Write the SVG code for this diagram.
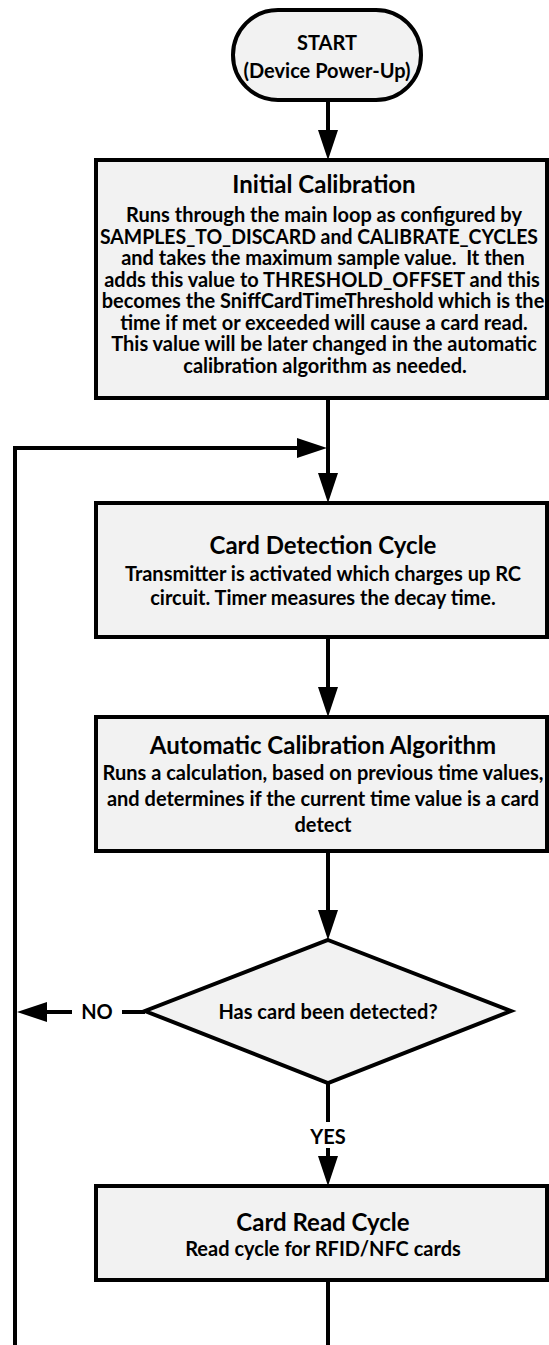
<svg xmlns="http://www.w3.org/2000/svg" width="549" height="1345" viewBox="0 0 549 1345">
<style>
.box{fill:#f2f2f2;stroke:#000;stroke-width:4}
.ln{fill:none;stroke:#000;stroke-width:4}
text{font-family:Lato,"Liberation Sans",sans-serif;font-weight:bold;fill:#000;text-anchor:middle}
.t{font-size:24px}
.b{font-size:20px}
</style>
<defs>
<marker id="ah" markerUnits="userSpaceOnUse" markerWidth="32" markerHeight="24" refX="0" refY="11" orient="auto" viewBox="0 0 32 22">
<path d="M0,1 L30,11 L0,21 z" fill="#000"/>
</marker>
</defs>
<rect width="549" height="1345" fill="#fff"/>
<g id="connectors">
<line class="ln" x1="328" y1="100" x2="328" y2="130" marker-end="url(#ah)"/>
<line class="ln" x1="328" y1="398" x2="328" y2="473" marker-end="url(#ah)"/>
<polyline class="ln" points="15,1345 15,448 297,448" marker-end="url(#ah)"/>
<line class="ln" x1="328" y1="637" x2="328" y2="687" marker-end="url(#ah)"/>
<line class="ln" x1="328" y1="851" x2="328" y2="910" marker-end="url(#ah)"/>
<line class="ln" x1="145" y1="1012" x2="122" y2="1012"/>
<line class="ln" x1="72" y1="1012" x2="47" y2="1012" marker-end="url(#ah)"/>
<text class="b" x="97" y="1019">NO</text>
<line class="ln" x1="328" y1="1083" x2="328" y2="1122"/>
<text class="b" x="328" y="1144">YES</text>
<line class="ln" x1="328" y1="1148" x2="328" y2="1156" marker-end="url(#ah)"/>
<line class="ln" x1="328" y1="1280" x2="328" y2="1345"/>
</g>
<g id="start">
<rect class="box" x="233" y="10" width="188" height="90" rx="45" ry="45"/>
<text class="b" x="327" y="50">START</text>
<text class="b" x="327" y="78">(Device Power-Up)</text>
</g>
<g id="initial-calibration">
<rect class="box" x="96" y="160" width="451" height="238"/>
<text class="t" x="324" y="193">Initial Calibration</text>
<text class="b" x="324" y="222">Runs through the main loop as configured by</text>
<text class="b" x="319" y="243.5" textLength="438" lengthAdjust="spacingAndGlyphs">SAMPLES_TO_DISCARD and CALIBRATE_CYCLES</text>
<text class="b" x="323" y="265" xml:space="preserve" style="white-space:pre">and takes the maximum sample value.  It then</text>
<text class="b" x="322" y="286.5">adds this value to THRESHOLD_OFFSET and this</text>
<text class="b" x="323" y="308">becomes the SniffCardTimeThreshold which is the</text>
<text class="b" x="324" y="329.5">time if met or exceeded will cause a card read.</text>
<text class="b" x="324" y="351">This value will be later changed in the automatic</text>
<text class="b" x="325" y="372.5">calibration algorithm as needed.</text>
</g>
<g id="card-detection">
<rect class="box" x="96" y="503" width="451" height="134"/>
<text class="t" x="323" y="554">Card Detection Cycle</text>
<text class="b" x="323" y="581">Transmitter is activated which charges up RC</text>
<text class="b" x="323" y="605">circuit. Timer measures the decay time.</text>
</g>
<g id="auto-calibration">
<rect class="box" x="96" y="717" width="451" height="134"/>
<text class="t" x="323" y="754">Automatic Calibration Algorithm</text>
<text class="b" x="323" y="780">Runs a calculation, based on previous time values,</text>
<text class="b" x="323" y="806">and determines if the current time value is a card</text>
<text class="b" x="323" y="832">detect</text>
</g>
<g id="decision">
<polygon class="box" points="328,940 511,1011 328,1083 145,1011"/>
<text class="b" x="328" y="1019">Has card been detected?</text>
</g>
<g id="card-read">
<rect class="box" x="96" y="1186" width="451" height="94"/>
<text class="t" x="323" y="1231">Card Read Cycle</text>
<text class="b" x="323" y="1256">Read cycle for RFID/NFC cards</text>
</g>
</svg>
